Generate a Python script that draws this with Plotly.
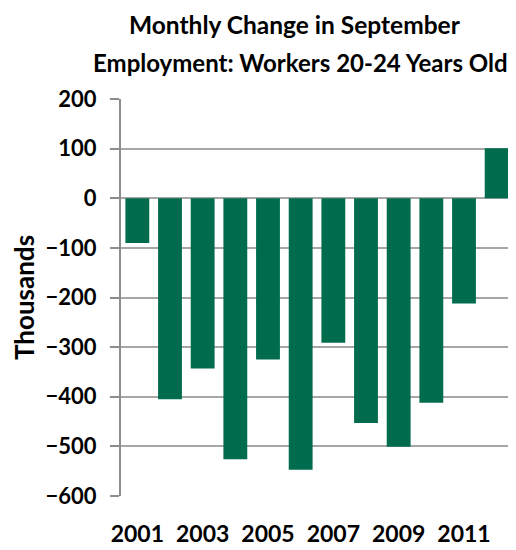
import plotly.graph_objects as go

years = [str(y) for y in range(2001, 2013)]
values = [-90, -405, -343, -526, -325, -547, -291, -453, -501, -412, -212, 101]
tick_years = ["2001", "2003", "2005", "2007", "2009", "2011"]
y_ticks = [200, 100, 0, -100, -200, -300, -400, -500, -600]

title_lines = ["Monthly Change in September", "Employment: Workers 20-24 Years Old"]

FONT = "Lato"
BAR = "#006C4D"
GRID = "#a6a6a6"
AXIS = "#8c8c8c"

fig = go.Figure()
fig.add_trace(go.Bar(
    x=years, y=values, marker=dict(color=BAR, line=dict(width=0)),
    xaxis="x", yaxis="y", hoverinfo="x+y",
))

ymin, ymax = -600, 200
zero_frac = (0 - ymin) / (ymax - ymin)

# page body has an 8px margin, so the figure is sized 8px smaller
fig.update_layout(
    width=508, height=542,
    margin=dict(l=113, r=3, t=91, b=47),
    paper_bgcolor="white", plot_bgcolor="rgba(0,0,0,0)",
    showlegend=False,
    bargap=0.27,
    font=dict(family=FONT, color="black"),
    xaxis=dict(
        type="category", categoryorder="array", categoryarray=years,
        range=[-0.5, 11.5], domain=[0, 1],
        tickvals=tick_years, ticktext=tick_years,
        showgrid=False, showline=False, ticks="", zeroline=False,
        tickfont=dict(family=FONT, size=23, color="black", weight="bold"),
        ticklabelstandoff=22,
    ),
    yaxis=dict(
        range=[ymin, ymax], tickvals=y_ticks, domain=[0, 1],
        showgrid=True, gridcolor=GRID, gridwidth=1.5,
        showline=True, linecolor=AXIS, linewidth=2,
        ticks="outside", ticklen=9, tickcolor=AXIS, tickwidth=1.5,
        zeroline=False,
        tickfont=dict(family=FONT, size=22, color="black", weight="bold"),
        ticklabelstandoff=9,
        title=dict(text="Thousands", font=dict(family=FONT, size=26, color="black", weight="bold"), standoff=12),
    ),
    xaxis2=dict(
        anchor="y2", domain=[0, 1], range=[-0.5, 11.5],
        tick0=-0.5, dtick=1, ticks="outside", ticklen=6, tickcolor=AXIS, tickwidth=1.5,
        showticklabels=False, showgrid=False, zeroline=False,
        showline=True, linecolor=AXIS, linewidth=2,
    ),
    yaxis2=dict(
        domain=[zero_frac, 1], anchor="x2", range=[0, 1],
        showticklabels=False, showgrid=False, zeroline=False, showline=False, ticks="",
    ),
    annotations=[
        dict(text=title_lines[0], xref="paper", yref="paper", x=0.445, y=1, yshift=75,
             xanchor="center", yanchor="middle", showarrow=False,
             font=dict(family=FONT, size=24.5, color="black", weight="bold")),
        dict(text=title_lines[1], xref="paper", yref="paper", x=0.457, y=1, yshift=37,
             xanchor="center", yanchor="middle", showarrow=False,
             font=dict(family=FONT, size=24, color="black", weight="bold")),
    ],
)

fig.write_html("out.html")
